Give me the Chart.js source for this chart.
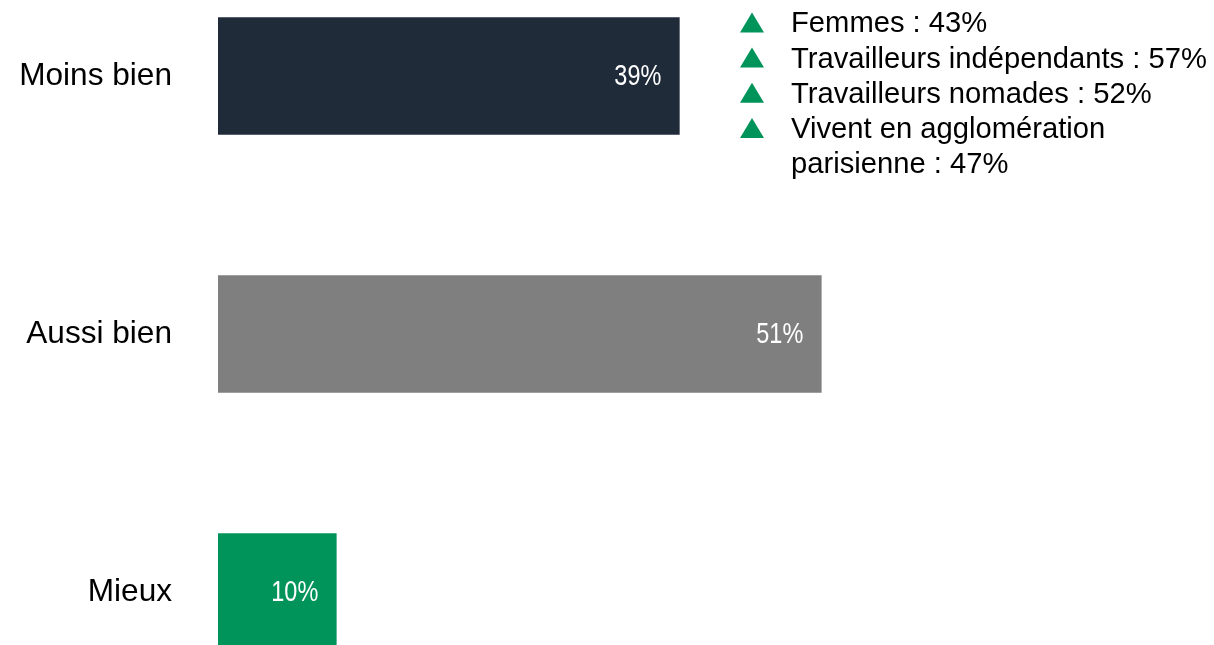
<!DOCTYPE html>
<html>
<head>
<meta charset="utf-8">
<script src="https://cdn.jsdelivr.net/npm/chart.js@4"></script>
<style>
  html, body { margin: 0; padding: 0; background: #fff; overflow: hidden; }
  #chart { position: absolute; left: 0; top: -52.7px; }
</style>
</head>
<body>
<canvas id="chart" width="1214" height="774"></canvas>
<script>
// data
const categories = ['Moins bien', 'Aussi bien', 'Mieux'];
const shares = [39, 51, 10];
const barColors = ['#202B3A', '#7F7F7F', '#00935A'];

// highlighted sub-groups (one entry per marker, may wrap on two lines)
const notes = [
    ['Femmes : 43%'],
    ['Travailleurs indépendants : 57%'],
    ['Travailleurs nomades : 52%'],
    ['Vivent en agglomération', 'parisienne : 47%']
];

const topShift = 52.7; // canvas is shifted up so the bands line up with the picture

// white value labels at the end of each bar (narrow look, squeezed horizontally)
const valueLabels = {
    id: 'valueLabels',
    afterDatasetsDraw(chart) {
        const ctx = chart.ctx;
        const meta = chart.getDatasetMeta(0);
        const squeeze = 0.81;
        meta.data.forEach((bar, i) => {
            ctx.save();
            ctx.translate(bar.x - 18, bar.y + 1);
            ctx.scale(squeeze, 1);
            ctx.font = '29px "Liberation Sans", Arial, sans-serif';
            ctx.fillStyle = '#fff';
            ctx.textAlign = 'right';
            ctx.textBaseline = 'middle';
            ctx.fillText(shares[i] + '%', 0, 0);
            ctx.restore();
        });
    }
};

// list of sub-groups with green up triangles
const notePlugin = {
    id: 'notePlugin',
    afterDraw(chart) {
        const ctx = chart.ctx;
        ctx.save();
        ctx.font = '29.2px "Liberation Sans", Arial, sans-serif';
        ctx.textAlign = 'left';
        ctx.textBaseline = 'alphabetic';
        let baseline = 32.7 + topShift;
        const step = 35.2;
        notes.forEach(lines => {
            ctx.fillStyle = '#00935A';
            ctx.beginPath();
            ctx.moveTo(740, baseline);
            ctx.lineTo(764, baseline);
            ctx.lineTo(752, baseline - 20);
            ctx.closePath();
            ctx.fill();
            ctx.fillStyle = '#000';
            lines.forEach(line => {
                ctx.fillText(line, 791, baseline);
                baseline += step;
            });
        });
        ctx.restore();
    }
};

new Chart(document.getElementById('chart'), {
    type: 'bar',
    data: {
        labels: categories,
        datasets: [{
            data: shares,
            backgroundColor: barColors,
            borderWidth: 0,
            barThickness: 117
        }]
    },
    options: {
        indexAxis: 'y',
        responsive: false,
        animation: false,
        layout: { padding: 0 },
        plugins: {
            legend: { display: false },
            tooltip: { enabled: false }
        },
        scales: {
            x: {
                display: false,
                min: 0,
                max: 84.2
            },
            y: {
                grid: { display: false, drawTicks: false },
                border: { display: false },
                ticks: {
                    color: '#000',
                    padding: 46,
                    font: { family: '"Liberation Sans", Arial, sans-serif', size: 31.6 }
                },
                afterFit(scale) {
                    scale.width = 218;
                    // the bands fill the whole canvas height
                    scale.paddingTop = 0;
                    scale.paddingBottom = 0;
                }
            }
        }
    },
    plugins: [valueLabels, notePlugin]
});
</script>
</body>
</html>
